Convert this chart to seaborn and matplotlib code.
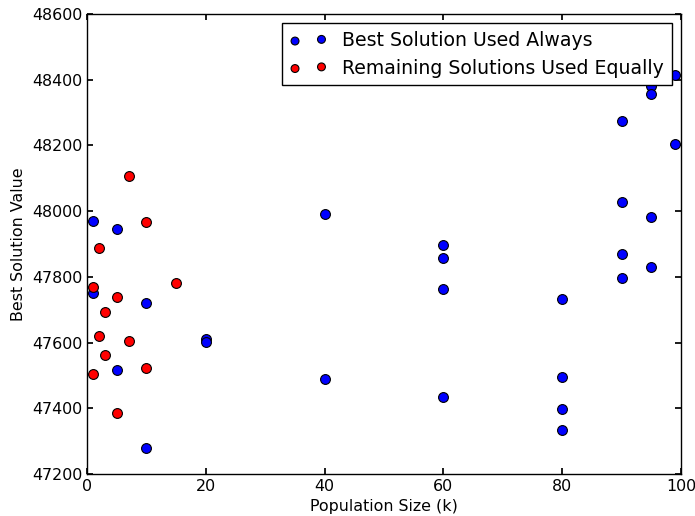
import matplotlib
matplotlib.use("Agg")
import matplotlib.pyplot as plt
import seaborn as sns
import pandas as pd

# Population sizes (k) and best solution values for each strategy
best_k = [1, 1, 5, 5, 10, 10, 20, 20, 40, 40,
          60, 60, 60, 60, 80, 80, 80, 80,
          90, 90, 90, 90, 95, 95, 95, 95, 99, 99]
best_val = [47970, 47751, 47947, 47518, 47721, 47280, 47610, 47602, 47991, 47490,
            47896, 47857, 47762, 47435, 47733, 47495, 47399, 47333,
            48274, 48027, 47869, 47797, 48381, 48357, 47982, 47829, 48413, 48204]

equal_k = [1, 1, 2, 2, 3, 3, 5, 5, 7, 7, 10, 10, 15]
equal_val = [47769, 47504, 47889, 47621, 47693, 47562, 47740, 47385,
             48107, 47605, 47966, 47524, 47782]

labels = ["Best Solution Used Always", "Remaining Solutions Used Equally"]
colors = ["blue", "red"]

sns.set_theme(style="white", rc={
    "font.family": ["DejaVu Sans"],
    "font.size": 11.4,
    "axes.labelsize": 11.4,
    "xtick.labelsize": 11.4,
    "ytick.labelsize": 11.4,
    "legend.fontsize": 13.6,
    "axes.edgecolor": "black",
    "axes.linewidth": 1.0,
    "xtick.direction": "in",
    "ytick.direction": "in",
    "xtick.top": True,
    "ytick.right": True,
    "xtick.bottom": True,
    "ytick.left": True,
    "xtick.major.size": 4,
    "ytick.major.size": 4,
    "xtick.color": "black",
    "ytick.color": "black",
    "text.color": "black",
    "axes.labelcolor": "black",
})

best_df = pd.DataFrame({"k": best_k, "value": best_val})
equal_df = pd.DataFrame({"k": equal_k, "value": equal_val})

fig = plt.figure(figsize=(6.95, 5.16), dpi=100)
ax = fig.add_axes([87 / 695, 1 - 474 / 516, (681 - 87) / 695, (474 - 14) / 516])

sns.scatterplot(data=best_df, x="k", y="value", color=colors[0], s=50,
                edgecolor="black", linewidth=0.8, label=labels[0], ax=ax, zorder=3)
sns.scatterplot(data=equal_df, x="k", y="value", color=colors[1], s=50,
                edgecolor="black", linewidth=0.8, label=labels[1], ax=ax, zorder=3)

ax.set_xlim(0, 100)
ax.set_ylim(47200, 48600)
ax.set_xticks(range(0, 101, 20))
ax.set_yticks(range(47200, 48601, 200))
ax.set_xlabel("Population Size (k)")
ax.set_ylabel("Best Solution Value")

leg = ax.legend(loc="upper right", scatterpoints=2, fancybox=False, frameon=True,
                markerscale=0.8, labelspacing=0.45)
leg.get_frame().set_edgecolor("black")
leg.get_frame().set_linewidth(1.0)
leg.get_frame().set_alpha(1.0)
leg.set_zorder(10)

fig.savefig("out.png", dpi=100)
